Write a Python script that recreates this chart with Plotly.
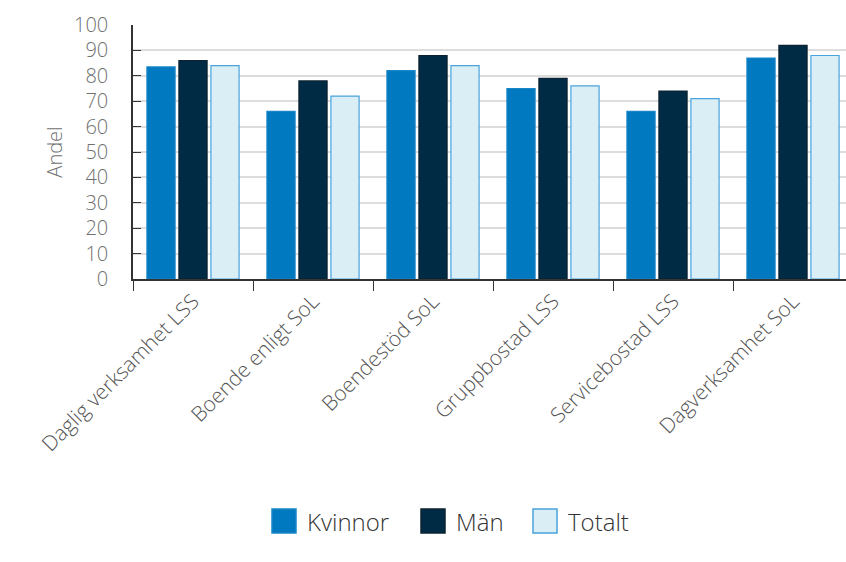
import plotly.graph_objects as go

# Andel per insats och kön
categories = ["Daglig verksamhet LSS", "Boende enligt SoL", "Boendestöd SoL",
              "Gruppbostad LSS", "Servicebostad LSS", "Dagverksamhet SoL"]
kvinnor = [83.5, 66, 82, 75, 66, 87]
man = [86, 78, 88, 79, 74, 92]
totalt = [84, 72, 84, 76, 71, 88]
series_names = ["Kvinnor", "Män", "Totalt"]
y_ticks = list(range(0, 101, 10))

fills = ["#0079c1", "#002b45", "#daeef6"]
edges = ["#1a86c8", "#0d2233", "#4aa3dc"]

W, H = 846, 562
L, R, T, B = 133, 0, 25, 283
plot_w, plot_h = W - L - R, H - T - B

fig = go.Figure()
for name, vals, fc, ec in zip(series_names, [kvinnor, man, totalt], fills, edges):
    fig.add_trace(go.Bar(
        x=categories, y=vals, name=name,
        marker=dict(color=fc, line=dict(color=ec, width=1.2)),
        showlegend=False,
    ))

font_family = "Open Sans, sans-serif"
grey = "#707070"

# legend drawn as swatches + labels below the plot
def px_to_paper_x(px):
    return (px - L) / plot_w

def px_to_paper_y(py):
    return (H - B - py) / plot_h

legend_x = [272, 421, 533]
sw = 24
sy0, sy1 = 509, 533
shapes = []
annotations = []
for name, lx, fc, ec in zip(series_names, legend_x, fills, edges):
    shapes.append(dict(
        type="rect", xref="paper", yref="paper",
        x0=px_to_paper_x(lx), x1=px_to_paper_x(lx + sw),
        y0=px_to_paper_y(sy1), y1=px_to_paper_y(sy0),
        fillcolor=fc, line=dict(color=ec, width=1.5),
    ))
    annotations.append(dict(
        xref="paper", yref="paper",
        x=px_to_paper_x(lx + sw + 9), y=px_to_paper_y((sy0 + sy1) / 2),
        xanchor="left", yanchor="middle", showarrow=False,
        text=name, font=dict(family=font_family, size=24, color="#333333", weight=300),
    ))

fig.update_layout(
    width=W, height=H,
    margin=dict(l=L, r=R, t=T, b=B),
    paper_bgcolor="white", plot_bgcolor="white",
    barmode="group", bargap=0.2, bargroupgap=0.12,
    font=dict(family=font_family, color=grey),
    shapes=shapes, annotations=annotations,
    xaxis=dict(
        range=[-0.5, -0.5 + plot_w / 120],
        showline=True, linecolor="#333333", linewidth=1.5,
        ticks="outside", tickson="boundaries", ticklen=10, tickcolor="#333333",
        tickangle=-45, tickfont=dict(size=21, color="#555555", weight=300),
        showgrid=False,
    ),
    yaxis=dict(
        range=[0, 100], tickvals=y_ticks,
        showline=True, linecolor="#333333", linewidth=1.5,
        ticks="inside", ticklen=8, tickcolor="#333333",
        ticklabelstandoff=19,
        tickfont=dict(size=20, color=grey, weight=300),
        gridcolor="#dddddd", gridwidth=2,
        zeroline=False,
        title=dict(text="Andel", font=dict(size=20, color=grey, weight=300), standoff=6),
    ),
)

fig.write_html("out.html")
